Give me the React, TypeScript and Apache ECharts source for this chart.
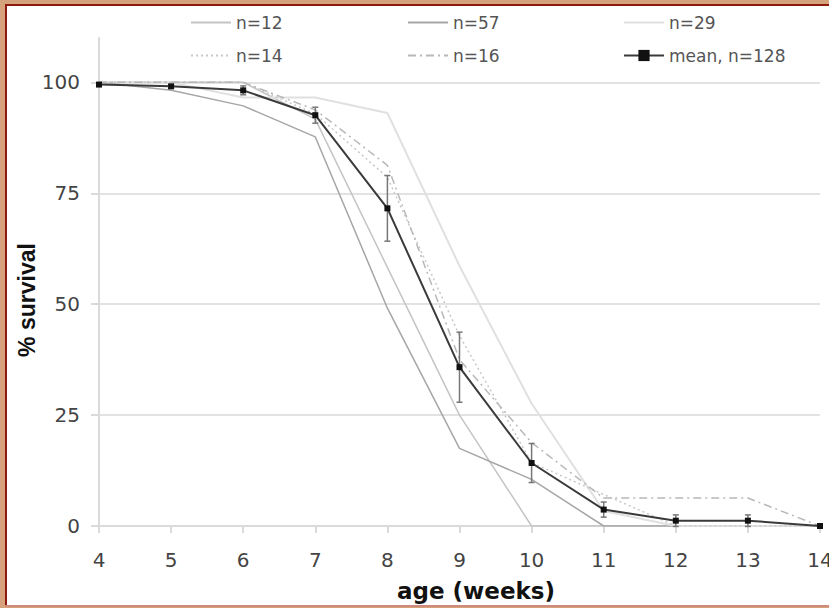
import React, { useEffect, useRef } from "react";
import * as echarts from "echarts";

const weeks = [4, 5, 6, 7, 8, 9, 10, 11, 12, 13, 14];
const n12 = [100, 100, 100, 91.7, 58.3, 25, 0, 0, 0, 0, 0];
const n57 = [100, 98.2, 94.7, 87.7, 49.1, 17.5, 10.5, 0, 0, 0, 0];
const n29 = [100, 100, 96.6, 96.6, 93.1, 58.6, 27.6, 3.4, 0, 0, 0];
const n14 = [100, 100, 100, 92.9, 78.6, 42.9, 14.3, 7.1, 0, 0, 0];
const n16 = [100, 100, 100, 93.8, 81.3, 37.5, 18.8, 6.3, 6.3, 6.3, 0];
const meanVals = [99.5, 99.1, 98.2, 92.6, 71.6, 35.8, 14.2, 3.7, 1.2, 1.2, 0];
const seVals = [0, 0.4, 1.0, 1.8, 7.4, 7.9, 4.4, 1.7, 1.3, 1.3, 0];
const yTicks = [0, 25, 50, 75, 100];

const names = ["n=12", "n=57", "n=29", "n=14", "n=16", "mean, n=128"];

const TAN = "#d6a27c";
const RED = "#8e1a0e";

export default function App() {
  const ref = useRef<HTMLDivElement>(null);
  useEffect(() => {
    document.body.style.margin = "0";
    document.body.style.overflow = "hidden";
    const chart = echarts.init(ref.current!, null, { renderer: "svg" });
    const pts = (arr: number[]) => weeks.map((w, i) => [w, arr[i]]);
    const thin = (name: string, arr: number[], color: string, type: any, width: number) => ({
      name,
      type: "line",
      data: pts(arr),
      symbol: "none",
      lineStyle: { color, width, type },
      itemStyle: { color },
      z: 2,
    });
    const legendBase = {
      itemWidth: 40,
      itemHeight: 14,
      textStyle: { fontFamily: "DejaVu Sans", fontSize: 17, color: "#555" },
      selectedMode: false,
    };
    const legendPos = [
      [185, 9],
      [402, 9],
      [618, 9],
      [185, 42],
      [402, 42],
      [618, 42],
    ];
    chart.setOption({
      animation: false,
      legend: names.map((n, i) => ({
        ...legendBase,
        data: [n],
        left: legendPos[i][0],
        top: legendPos[i][1],
        itemStyle: i < 5 ? { opacity: 0 } : {},
      })),
      grid: { left: 99, right: 9, top: 38, bottom: 82, containLabel: false, outerBoundsMode: "none" },
      xAxis: {
        type: "value",
        min: 4,
        max: 14,
        interval: 1,
        axisLine: { show: true, lineStyle: { color: "#dadada", width: 2 } },
        axisTick: { show: true, length: 7, lineStyle: { color: "#dadada", width: 2 } },
        splitLine: { show: false },
        axisLabel: { fontFamily: "DejaVu Sans", fontSize: 20, color: "#444", margin: 24 },
      },
      yAxis: {
        type: "value",
        min: 0,
        max: 110,
        interval: 25,
        axisLine: { show: true, lineStyle: { color: "#dadada", width: 2 } },
        axisTick: { show: true, length: 8, customValues: yTicks, lineStyle: { color: "#dadada", width: 2 } },
        splitLine: { show: true, lineStyle: { color: "#e2e2e2", width: 2 } },
        axisLabel: {
          fontFamily: "DejaVu Sans",
          fontSize: 20,
          color: "#444",
          margin: 19,
          customValues: yTicks,
        },
      },
      graphic: [
        {
          type: "text",
          x: 27,
          y: 300,
          rotation: Math.PI / 2,
          style: {
            text: "% survival",
            font: 'bold 23px "Liberation Sans"',
            fill: "#111",
            align: "center",
            verticalAlign: "middle",
          },
        },
        {
          type: "text",
          x: 476,
          y: 591,
          style: {
            text: "age (weeks)",
            font: 'bold 23px "DejaVu Sans"',
            fill: "#111",
            align: "center",
            verticalAlign: "middle",
          },
        },
      ],
      series: [
        thin("n=12", n12, "#c4c4c4", "solid", 1.5),
        thin("n=57", n57, "#a6a6a6", "solid", 1.5),
        thin("n=29", n29, "#e0e0e0", "solid", 2),
        thin("n=14", n14, "#c8c8c8", [2, 3], 1.5),
        thin("n=16", n16, "#b8b8b8", [8, 4, 2, 4], 1.5),
        {
          name: "errors",
          type: "custom",
          z: 3,
          data: weeks.map((w, i) => [w, meanVals[i] - seVals[i], meanVals[i] + seVals[i]]),
          renderItem: (params: any, api: any) => {
            const x = api.value(0);
            const lo = api.coord([x, api.value(1)]);
            const hi = api.coord([x, api.value(2)]);
            const c = 3;
            const st = { stroke: "#777", lineWidth: 1.5 };
            return {
              type: "group",
              children: [
                { type: "line", shape: { x1: lo[0], y1: lo[1], x2: hi[0], y2: hi[1] }, style: st },
                { type: "line", shape: { x1: lo[0] - c, y1: lo[1], x2: lo[0] + c, y2: lo[1] }, style: st },
                { type: "line", shape: { x1: hi[0] - c, y1: hi[1], x2: hi[0] + c, y2: hi[1] }, style: st },
              ],
            };
          },
        },
        {
          name: "mean, n=128",
          type: "line",
          data: pts(meanVals),
          symbol: "rect",
          symbolSize: 6,
          z: 4,
          lineStyle: { color: "#3a3a3a", width: 2 },
          itemStyle: { color: "#111" },
        },
      ],
    });
    return () => chart.dispose();
  }, []);
  const strip = (s: React.CSSProperties) => <div style={{ position: "absolute", ...s }} />;
  return (
    <div style={{ position: "relative", width: 829, height: 608, background: "#fff", overflow: "hidden" }}>
      {strip({ left: 0, top: 0, width: 829, height: 4, background: TAN })}
      {strip({ left: 0, top: 0, width: 5, height: 608, background: TAN })}
      {strip({ left: 5, top: 4, width: 824, height: 2, background: RED })}
      {strip({ left: 5, top: 4, width: 2, height: 603, background: RED })}
      {strip({ left: 5, top: 605, width: 824, height: 2, background: "#cf8a7c" })}
      {strip({ left: 0, top: 607, width: 829, height: 1, background: TAN })}
      <div ref={ref} style={{ position: "absolute", left: 0, top: 0, width: 829, height: 608 }} />
    </div>
  );
}
